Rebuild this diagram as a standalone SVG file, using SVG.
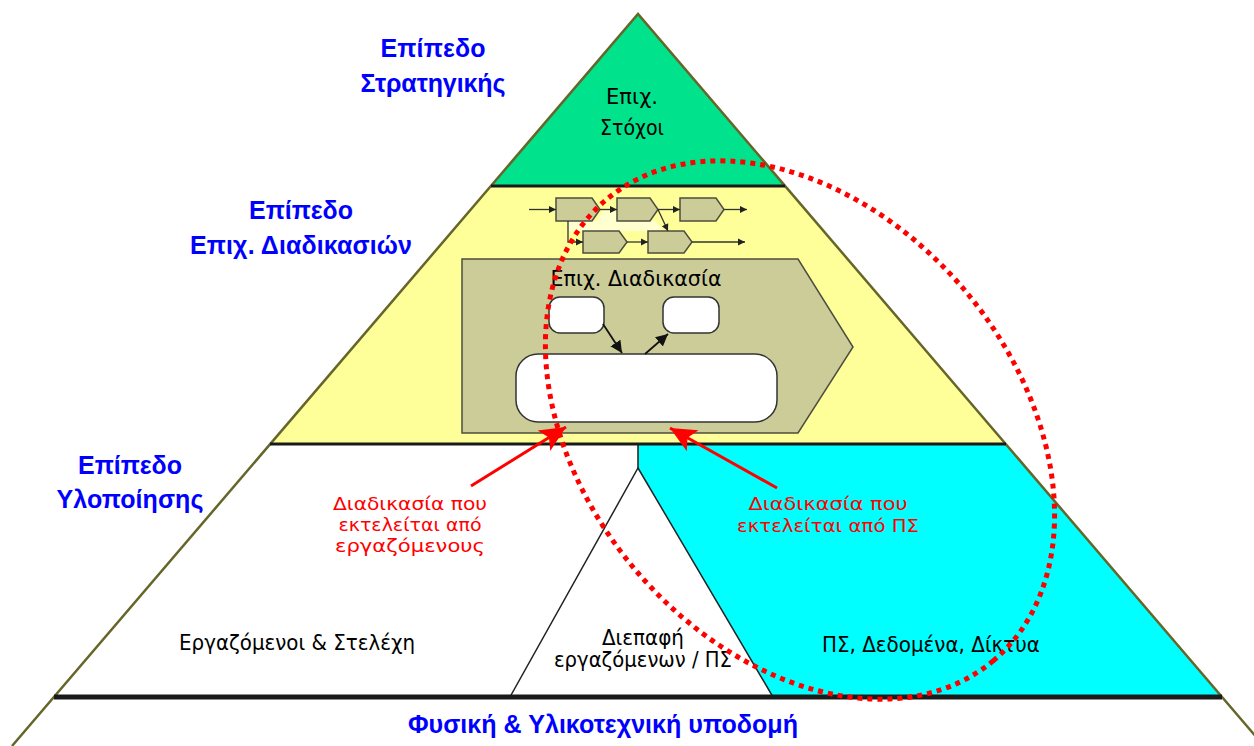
<svg xmlns="http://www.w3.org/2000/svg" width="1254" height="746" viewBox="0 0 1254 746">
<style>
.lvl{font-family:"Liberation Sans",Arial,sans-serif;font-weight:bold;font-size:25px;fill:#0000ff;text-anchor:middle}
.blk{font-family:"DejaVu Sans",Verdana,sans-serif;font-size:20.5px;fill:#000;text-anchor:middle}
.red{font-family:"DejaVu Sans",Verdana,sans-serif;font-size:18.5px;fill:#ff0000;text-anchor:middle}
.edge{stroke:#66662a;stroke-width:2.5;fill:none}
.sep{stroke:#1a1a1a;fill:none}
.tan{fill:#cccc99;stroke:#4d4d40;stroke-width:1.5}
.rr{fill:#fff;stroke:#333;stroke-width:1.5}
.cl{stroke:#333;stroke-width:1.3;fill:none}
</style>
<defs>
<marker id="sa" markerWidth="8" markerHeight="8" refX="7" refY="4" orient="auto" markerUnits="userSpaceOnUse"><path d="M0,0.5 L7,4 L0,7.5 Z" fill="#222"/></marker>
<marker id="ba" markerWidth="14" markerHeight="14" refX="12" refY="7" orient="auto" markerUnits="userSpaceOnUse"><path d="M0,1 L12,7 L0,13 Z" fill="#111"/></marker>
<marker id="ra" markerWidth="28" markerHeight="26" refX="26" refY="13" orient="auto" markerUnits="userSpaceOnUse"><path d="M0,1 L26,13 L0,25 L6,13 Z" fill="#ff0000"/></marker>
</defs>
<rect width="1254" height="746" fill="#fff"/>

<g id="layer-strategy">
<polygon points="638,14 785,186 491,186" fill="#00e38c"/>
<text class="blk" x="632" y="104" textLength="52" lengthAdjust="spacingAndGlyphs">Επιχ.</text>
<text class="blk" x="632" y="135" textLength="64" lengthAdjust="spacingAndGlyphs">Στόχοι</text>
</g>

<g id="layer-process">
<polygon points="491,186 785,186 1006,444 270,444" fill="#ffff99"/>
</g>

<g id="layer-impl">
<polygon points="270,444 638,444 638,468 510,697 54,697" fill="#fff"/>
<polygon points="638,444 1006,444 1222,697 773,697 638,468" fill="#00ffff"/>
<line class="sep" x1="638" y1="444" x2="638" y2="468" stroke-width="1.5"/>
</g>

<g id="interface">
<polygon points="638,468 773,697 510,697" fill="#fff" stroke="#222" stroke-width="1.5"/>
<text class="blk" x="643" y="645" textLength="82" lengthAdjust="spacingAndGlyphs">Διεπαφή</text>
<text class="blk" x="643" y="667" textLength="178" lengthAdjust="spacingAndGlyphs">εργαζόμενων / ΠΣ</text>
</g>

<g id="pyramid-frame">
<polyline class="edge" points="12,746 638,14 1264,746"/>
<line class="sep" x1="491" y1="186" x2="785" y2="186" stroke-width="3"/>
<line class="sep" x1="270" y1="444" x2="1006" y2="444" stroke-width="3"/>
<line class="sep" x1="54" y1="697" x2="1222" y2="697" stroke-width="5"/>
</g>

<g id="chain">
<polygon points="568,221 597,221 603,211 616,211 617,221 655,221 664,231 568,231" fill="#ffffd0"/>
<path class="tan" d="M556,198 H592 L600,209.5 L592,221 H556 Z"/>
<path class="tan" d="M617,198 H650 L658,209.5 L650,221 H617 Z"/>
<path class="tan" d="M680,198 H716 L724,209.5 L716,221 H680 Z"/>
<path class="tan" d="M583,231 H619 L627,242 L619,253 H583 Z"/>
<path class="tan" d="M648,231 H684 L692,242 L684,253 H648 Z"/>
</g>

<g id="process-box">
<path class="tan" d="M462,259 H798 L853,347 L798,433 H462 Z"/>
<text class="blk" x="636" y="286" textLength="171" lengthAdjust="spacingAndGlyphs">Επιχ. Διαδικασία</text>
<rect class="rr" x="549" y="297" width="55" height="36" rx="11"/>
<rect class="rr" x="663" y="297" width="56" height="36" rx="11"/>
<rect class="rr" x="516" y="354" width="261" height="68" rx="22"/>
</g>

<g id="labels">
<text class="lvl" x="433" y="57" textLength="105">Επίπεδο</text>
<text class="lvl" x="433" y="92" textLength="145">Στρατηγικής</text>
<text class="lvl" x="301" y="219" textLength="104">Επίπεδο</text>
<text class="lvl" x="301" y="254" textLength="222">Επιχ. Διαδικασιών</text>
<text class="lvl" x="130" y="474" textLength="104">Επίπεδο</text>
<text class="lvl" x="130" y="508" textLength="147">Υλοποίησης</text>
<text class="blk" x="297" y="650" textLength="236" lengthAdjust="spacingAndGlyphs">Εργαζόμενοι &amp; Στελέχη</text>
<text class="blk" x="931" y="652" textLength="218" lengthAdjust="spacingAndGlyphs">ΠΣ, Δεδομένα, Δίκτυα</text>
<text class="red" x="410" y="510" textLength="154" lengthAdjust="spacingAndGlyphs">Διαδικασία που</text>
<text class="red" x="410" y="531" textLength="143" lengthAdjust="spacingAndGlyphs">εκτελείται από</text>
<text class="red" x="410" y="552" textLength="150" lengthAdjust="spacingAndGlyphs">εργαζόμενους</text>
<text class="red" x="828" y="510" textLength="159" lengthAdjust="spacingAndGlyphs">Διαδικασία που</text>
<text class="red" x="828" y="532" textLength="182" lengthAdjust="spacingAndGlyphs">εκτελείται από ΠΣ</text>
<text class="lvl" x="603" y="733" textLength="390" lengthAdjust="spacingAndGlyphs">Φυσική &amp; Υλικοτεχνική υποδομή</text>
</g>

<g id="connectors">
<line class="cl" x1="529" y1="209.5" x2="556" y2="209.5" marker-end="url(#sa)"/>
<line class="cl" x1="600" y1="209.5" x2="617" y2="209.5" marker-end="url(#sa)"/>
<line class="cl" x1="658" y1="209.5" x2="680" y2="209.5" marker-end="url(#sa)"/>
<line class="cl" x1="724" y1="209.5" x2="747" y2="209.5" marker-end="url(#sa)"/>
<line class="cl" x1="658" y1="209.5" x2="668" y2="231" marker-end="url(#sa)"/>
<polyline class="cl" points="568,221 568,242 583,242" marker-end="url(#sa)"/>
<line class="cl" x1="627" y1="242" x2="648" y2="242" marker-end="url(#sa)"/>
<line class="cl" x1="692" y1="242" x2="745" y2="242" marker-end="url(#sa)"/>
<line x1="603" y1="324" x2="622" y2="353" stroke="#111" stroke-width="1.8" marker-end="url(#ba)"/>
<line x1="645" y1="354" x2="668" y2="334" stroke="#111" stroke-width="1.8" marker-end="url(#ba)"/>
<line x1="471" y1="486" x2="566" y2="427" stroke="#ff0000" stroke-width="3" marker-end="url(#ra)"/>
<line x1="777" y1="488" x2="670" y2="428" stroke="#ff0000" stroke-width="3" marker-end="url(#ra)"/>
</g>

<g id="highlight">
<ellipse cx="800" cy="430" rx="301" ry="216" transform="rotate(50 800 430)" fill="none" stroke="#ff0000" stroke-width="5" stroke-dasharray="5 5"/>
</g>
</svg>
